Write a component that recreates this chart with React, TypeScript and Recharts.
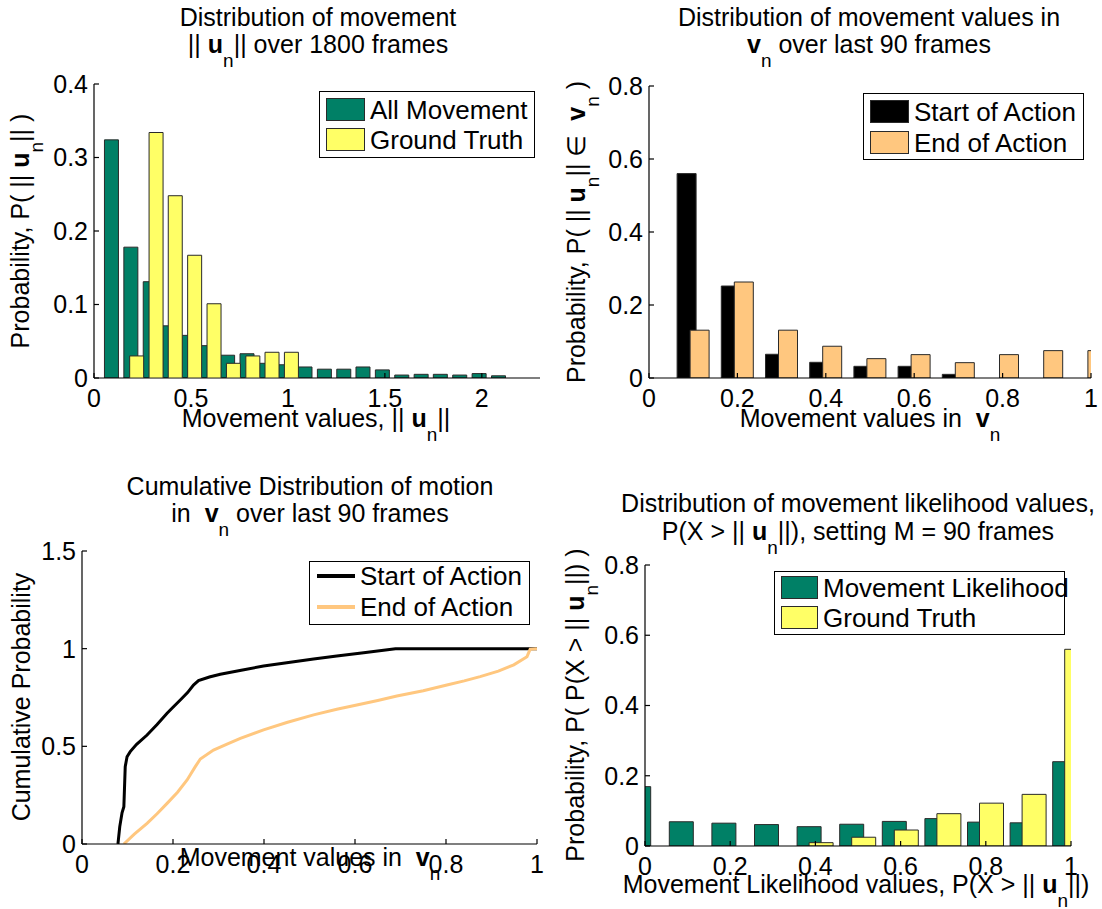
import React from 'react';
import { Bar, ComposedChart, Line, XAxis, YAxis } from 'recharts';

// ---- top left: ||u_n|| histogram over 1800 frames
const allMoveX = [0.088, 0.188, 0.288, 0.388, 0.487, 0.587, 0.687, 0.787, 0.886, 0.986, 1.086, 1.186, 1.286, 1.385, 1.485, 1.585, 1.685, 1.784, 1.884, 1.984, 2.084];
const allMove = [0.324, 0.178, 0.131, 0.071, 0.058, 0.044, 0.031, 0.033, 0.02, 0.018, 0.015, 0.012, 0.012, 0.015, 0.011, 0.004, 0.005, 0.005, 0.004, 0.006, 0.003];
const truthX = [0.218, 0.318, 0.417, 0.517, 0.617, 0.717, 0.817, 0.916, 1.016];
const truth = [0.03, 0.334, 0.248, 0.167, 0.101, 0.02, 0.03, 0.035, 0.035];
const p1XTicks = [0, 0.5, 1, 1.5, 2];
const p1YTicks = [0, 0.1, 0.2, 0.3, 0.4];

// ---- top right: values in v_n, last 90 frames
const vBins = [0.1, 0.2, 0.3, 0.4, 0.5, 0.6, 0.7, 0.8, 0.9, 1.0];
const startHist = [0.56, 0.252, 0.065, 0.043, 0.032, 0.032, 0.01, 0, 0, 0];
const endHist = [0.131, 0.263, 0.131, 0.087, 0.053, 0.064, 0.042, 0.064, 0.075, 0.075];
const unitTicks = [0, 0.2, 0.4, 0.6, 0.8, 1];
const probTicks = [0, 0.2, 0.4, 0.6, 0.8];

// ---- bottom left: cumulative distributions
const startCdfX = [0.079, 0.083, 0.088, 0.092, 0.095, 0.099, 0.106, 0.12, 0.143, 0.165, 0.187, 0.2, 0.216, 0.232, 0.245, 0.256, 0.28, 0.304, 0.35, 0.399, 0.45, 0.509, 0.56, 0.619, 0.689, 1.0];
const startCdf = [0, 0.089, 0.16, 0.191, 0.396, 0.447, 0.473, 0.51, 0.558, 0.612, 0.669, 0.7, 0.737, 0.775, 0.814, 0.836, 0.855, 0.869, 0.89, 0.911, 0.928, 0.947, 0.962, 0.979, 1, 1];
const endCdfX = [0.092, 0.115, 0.143, 0.165, 0.187, 0.21, 0.231, 0.249, 0.26, 0.289, 0.32, 0.348, 0.399, 0.45, 0.509, 0.56, 0.604, 0.65, 0.692, 0.75, 0.802, 0.84, 0.875, 0.915, 0.949, 0.978, 0.985, 1.0];
const endCdf = [0, 0.05, 0.106, 0.155, 0.208, 0.265, 0.328, 0.396, 0.435, 0.481, 0.513, 0.541, 0.584, 0.622, 0.661, 0.69, 0.712, 0.735, 0.758, 0.785, 0.814, 0.835, 0.857, 0.885, 0.917, 0.959, 0.997, 1];
const cdfYTicks = [0, 0.5, 1, 1.5];

// ---- bottom right: movement likelihood P(X > ||u_n||)
const likeBins = [0, 0.1, 0.2, 0.3, 0.4, 0.5, 0.6, 0.7, 0.8, 0.9, 1.0];
const likeMove = [0.169, 0.069, 0.065, 0.061, 0.055, 0.062, 0.07, 0.078, 0.068, 0.066, 0.24];
const likeTruth = [0, 0, 0, 0, 0.0095, 0.025, 0.0455, 0.092, 0.122, 0.147, 0.56];

const FONT = '"Liberation Sans", Arial, Helvetica, sans-serif';
const FS = 25;
const GREEN = '#008066';
const YELLOW = '#FFFF66';
const ORANGE = '#FFC77F';
const EDGE = '#2a2a2a';

const LEFT_W = 70;
const TOP_PAD = 20;
const RIGHT_PAD = 12;
const BOTTOM_H = 40;

type Frame = {
  x0: number; y0: number; x1: number; y1: number;
  xDomain: [number, number]; yDomain: [number, number];
  xTicks: number[]; yTicks: number[];
};

const F1: Frame = { x0: 94, y0: 84, x1: 540, y1: 378, xDomain: [0, 2.3], yDomain: [0, 0.4], xTicks: p1XTicks, yTicks: p1YTicks };
const F2: Frame = { x0: 649, y0: 86, x1: 1091, y1: 378, xDomain: [0, 1], yDomain: [0, 0.8], xTicks: unitTicks, yTicks: probTicks };
const F3: Frame = { x0: 82, y0: 551, x1: 537, y1: 844, xDomain: [0, 1], yDomain: [0, 1.5], xTicks: unitTicks, yTicks: cdfYTicks };
const F4: Frame = { x0: 645, y0: 565, x1: 1071, y1: 846, xDomain: [0, 1], yDomain: [0, 0.8], xTicks: unitTicks, yTicks: probTicks };

function boxOf(f: Frame): React.CSSProperties {
  return { position: 'absolute', left: f.x0 - LEFT_W, top: f.y0 - TOP_PAD };
}
function sizeOf(f: Frame) {
  return {
    width: f.x1 - f.x0 + LEFT_W + RIGHT_PAD,
    height: f.y1 - f.y0 + TOP_PAD + BOTTOM_H,
    margin: { top: TOP_PAD, right: RIGHT_PAD, left: 0, bottom: 0 },
  };
}

// matlab style box: ticks pointing in on all four sides
function axes(f: Frame, ghost = false) {
  const line = ghost ? false : { stroke: '#000', strokeWidth: 1.2 };
  const tick = ghost ? false : { fill: '#000', fontSize: FS, fontFamily: FONT };
  return [
    <XAxis key="xb" xAxisId="b" type="number" dataKey="x" domain={f.xDomain} ticks={f.xTicks} interval={0}
      allowDataOverflow height={BOTTOM_H} tickSize={-5} tickMargin={16} axisLine={line} tickLine={line} tick={tick} />,
    <XAxis key="xt" xAxisId="t" orientation="top" type="number" dataKey="x" domain={f.xDomain} ticks={f.xTicks}
      interval={0} allowDataOverflow height={0} tickSize={-5} axisLine={line} tickLine={line} tick={false} />,
    <YAxis key="yl" yAxisId="l" type="number" domain={f.yDomain} ticks={f.yTicks} interval={0} allowDataOverflow
      width={LEFT_W} tickSize={-5} tickMargin={11} axisLine={line} tickLine={line} tick={tick} />,
    <YAxis key="yr" yAxisId="r" orientation="right" type="number" domain={f.yDomain} ticks={f.yTicks} interval={0}
      allowDataOverflow width={0} tickSize={-5} axisLine={line} tickLine={line} tick={false} />,
  ];
}

function Sub({ children }: { children: React.ReactNode }) {
  return <span style={{ fontSize: 19, position: 'relative', top: 14 }}>{children}</span>;
}
const Un = () => (<><b>u</b><Sub>n</Sub></>);
const Vn = () => (<><b>v</b><Sub>n</Sub></>);

function Txt({ x, base, children, size = FS }: { x: number; base: number; children: React.ReactNode; size?: number }) {
  const lh = 30;
  const top = base - ((lh - 1.117 * size) / 2 + 0.905 * size);
  return (
    <div style={{ position: 'absolute', left: x, top, transform: 'translateX(-50%)', whiteSpace: 'nowrap',
      fontSize: size, lineHeight: `${lh}px`, fontFamily: FONT, color: '#000' }}>
      {children}
    </div>
  );
}

function VTxt({ base, cy, children }: { base: number; cy: number; children: React.ReactNode }) {
  const lh = 30;
  const off = (lh - 1.117 * FS) / 2 + 0.905 * FS - lh / 2;
  return (
    <div style={{ position: 'absolute', left: base - off, top: cy, transform: 'translate(-50%, -50%) rotate(-90deg)',
      whiteSpace: 'nowrap', fontSize: FS, lineHeight: `${lh}px`, fontFamily: FONT, color: '#000' }}>
      {children}
    </div>
  );
}

type LegendItem = { label: string; color: string; line?: boolean };

function LegendBox({ left, top, width, height, items, swatchW, rowBase, textX }: {
  left: number; top: number; width: number; height: number; items: LegendItem[];
  swatchW: number; rowBase: number[]; textX: number;
}) {
  return (
    <div style={{ position: 'absolute', left, top, width, height, boxSizing: 'border-box', border: '1.5px solid #000',
      background: '#fff', fontFamily: FONT, fontSize: 26 }}>
      {items.map((it, i) => (
        <React.Fragment key={it.label}>
          {it.line ? (
            <div style={{ position: 'absolute', left: 7, top: rowBase[i] - 12, width: swatchW, height: 4, background: it.color }} />
          ) : (
            <div style={{ position: 'absolute', left: 6, top: rowBase[i] - 22, width: swatchW, height: 23, boxSizing: 'border-box',
              background: it.color, border: `1.2px solid ${EDGE}` }} />
          )}
          <div style={{ position: 'absolute', left: textX, top: rowBase[i] - 25, lineHeight: '30px', whiteSpace: 'nowrap' }}>{it.label}</div>
        </React.Fragment>
      ))}
    </div>
  );
}

export default function App() {
  const moveRows = allMoveX.map((x, i) => ({ x, p: allMove[i] }));
  const truthRows = truthX.map((x, i) => ({ x, p: truth[i] }));
  const vRows = vBins.map((x, i) => ({ x, start: startHist[i], end: endHist[i] }));
  const startRows = startCdfX.map((x, i) => ({ x, c: startCdf[i] }));
  const endRows = endCdfX.map((x, i) => ({ x, c: endCdf[i] }));
  const likeRows = likeBins.map((x, i) => ({ x, move: likeMove[i], truth: likeTruth[i] }));

  return (
    <div style={{ position: 'absolute', left: 0, top: 0, width: 1102, height: 909, background: '#fff', overflow: 'hidden', fontFamily: FONT }}>
      {/* top left */}
      <div style={boxOf(F1)}>
        <ComposedChart {...sizeOf(F1)} data={moveRows}>
          {axes(F1)}
          <Bar xAxisId="b" yAxisId="l" dataKey="p" barSize={14} fill={GREEN} stroke={EDGE} strokeWidth={1} isAnimationActive={false} />
        </ComposedChart>
      </div>
      <div style={boxOf(F1)}>
        <ComposedChart {...sizeOf(F1)} data={truthRows}>
          {axes(F1, true)}
          <Bar xAxisId="b" yAxisId="l" dataKey="p" barSize={14} fill={YELLOW} stroke={EDGE} strokeWidth={1} isAnimationActive={false} />
        </ComposedChart>
      </div>
      <Txt x={318} base={26}>Distribution of movement</Txt>
      <Txt x={318} base={53}>|| <Un />|| over 1800 frames</Txt>
      <Txt x={316} base={427}>Movement values, || <Un />||</Txt>
      <VTxt base={30} cy={231}>Probability, P( || <Un />|| )</VTxt>
      <LegendBox left={319} top={91} width={216} height={67} swatchW={39} rowBase={[28, 58]} textX={50}
        items={[{ label: 'All Movement', color: GREEN }, { label: 'Ground Truth', color: YELLOW }]} />

      {/* top right */}
      <div style={boxOf(F2)}>
        <ComposedChart {...sizeOf(F2)} data={vRows} barGap={-6}>
          {axes(F2)}
          <Bar xAxisId="b" yAxisId="l" dataKey="start" barSize={19} fill="#000" stroke={EDGE} strokeWidth={1} isAnimationActive={false} />
          <Bar xAxisId="b" yAxisId="l" dataKey="end" barSize={19} fill={ORANGE} stroke={EDGE} strokeWidth={1} isAnimationActive={false} />
        </ComposedChart>
      </div>
      <Txt x={869} base={26}>Distribution of movement values in</Txt>
      <Txt x={869} base={53}><Vn /> over last 90 frames</Txt>
      <Txt x={870} base={427}>Movement values in&nbsp; <Vn /></Txt>
      <VTxt base={586} cy={232}>Probability, P( || <Un />|| ∈&nbsp; <Vn /> )</VTxt>
      <LegendBox left={863} top={93} width={221} height={67} swatchW={39} rowBase={[28, 59]} textX={50}
        items={[{ label: 'Start of Action', color: '#000' }, { label: 'End of Action', color: ORANGE }]} />

      {/* bottom left */}
      <div style={boxOf(F3)}>
        <ComposedChart {...sizeOf(F3)}>
          {axes(F3)}
          <Line xAxisId="b" yAxisId="l" data={startRows} dataKey="c" type="linear" stroke="#000" strokeWidth={3} dot={false} isAnimationActive={false} />
          <Line xAxisId="b" yAxisId="l" data={endRows} dataKey="c" type="linear" stroke={ORANGE} strokeWidth={3} dot={false} isAnimationActive={false} />
        </ComposedChart>
      </div>
      <Txt x={310} base={495}>Cumulative Distribution of motion</Txt>
      <Txt x={310} base={522}>in&nbsp; <Vn /> over last 90 frames</Txt>
      <Txt x={310} base={866}>Movement values in&nbsp; <Vn /></Txt>
      <VTxt base={30} cy={697}>Cumulative Probability</VTxt>
      <LegendBox left={309} top={561} width={221} height={64} swatchW={38} rowBase={[24, 55]} textX={50}
        items={[{ label: 'Start of Action', color: '#000', line: true }, { label: 'End of Action', color: ORANGE, line: true }]} />

      {/* bottom right */}
      <div style={boxOf(F4)}>
        <ComposedChart {...sizeOf(F4)} data={likeRows} barGap={-12}>
          {axes(F4)}
          <Bar xAxisId="b" yAxisId="l" dataKey="move" barSize={24} fill={GREEN} stroke={EDGE} strokeWidth={1} isAnimationActive={false} />
          <Bar xAxisId="b" yAxisId="l" dataKey="truth" barSize={24} fill={YELLOW} stroke={EDGE} strokeWidth={1} isAnimationActive={false} />
        </ComposedChart>
      </div>
      <Txt x={858} base={512}>Distribution of movement likelihood values,</Txt>
      <Txt x={858} base={540}>P(X &gt; || <Un />||), setting M = 90 frames</Txt>
      <Txt x={856} base={893}>Movement Likelihood values, P(X &gt; || <Un />||)</Txt>
      <VTxt base={585} cy={705}>Probability, P( P(X &gt; || <Un />||) )</VTxt>
      <LegendBox left={774} top={571} width={291} height={64} swatchW={37} rowBase={[26, 56]} textX={48}
        items={[{ label: 'Movement Likelihood', color: GREEN }, { label: 'Ground Truth', color: YELLOW }]} />
    </div>
  );
}
